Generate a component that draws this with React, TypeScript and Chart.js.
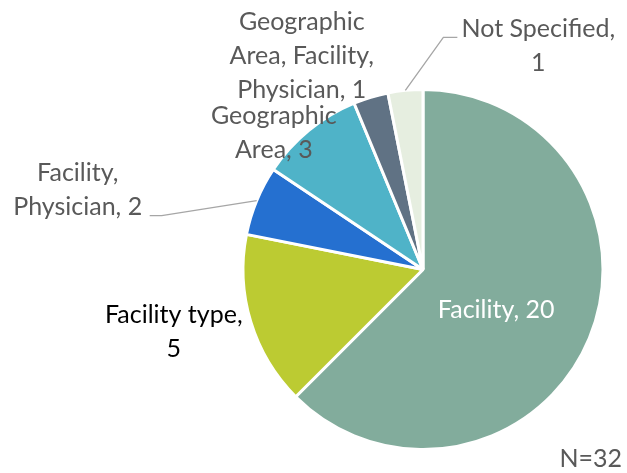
import React, { useEffect, useRef } from "react";
import { Chart, registerables } from "chart.js";

Chart.register(...registerables);

const categories = [
  "Facility",
  "Facility type",
  "Facility, Physician",
  "Geographic Area",
  "Geographic Area, Facility, Physician",
  "Not Specified",
];
const values = [20, 5, 2, 3, 1, 1];
const colors = ["#82AC9C", "#BCCB32", "#2570D0", "#4FB3C8", "#607284", "#E6EEE0"];
// label text lines per slice
const labelLines = [
  ["Facility, 20"],
  ["Facility type,", "5"],
  ["Facility,", "Physician, 2"],
  ["Geographic", "Area, 3"],
  ["Geographic", "Area, Facility,", "Physician, 1"],
  ["Not Specified,", "1"],
];
const labelColors = ["#FFFFFF", "#000000", "#595959", "#595959", "#595959", "#595959"];
// label placement relative to slice anchor: [radius factor, dx, dy]
const labelPlace = [
  [0.5, -10, 6],
  [1, -77, 10],
  [1, -179, -11],
  [1, -35, 3],
  [1, -69, -41],
  [1, 133, -44],
];
// leader lines: list of offsets from anchor (null = none)
const leaders: (number[][] | null)[] = [
  null,
  null,
  [[0, 0], [-95, 15], [-107, 15]],
  null,
  null,
  [[0, 0], [38, -53], [52, -53]],
];
const footnote = "N=32";
const FONT = "25px Lato, 'Open Sans', sans-serif";

const labelPlugin = {
  id: "sliceLabels",
  afterDraw(chart: any) {
    const ctx = chart.ctx;
    const meta = chart.getDatasetMeta(0);
    ctx.save();
    meta.data.forEach((arc: any, i: number) => {
      const { x, y, startAngle, endAngle, outerRadius } = arc.getProps(
        ["x", "y", "startAngle", "endAngle", "outerRadius"],
        true
      );
      const mid = (startAngle + endAngle) / 2;
      const ax = x + Math.cos(mid) * outerRadius;
      const ay = y + Math.sin(mid) * outerRadius;
      const ld = leaders[i];
      if (ld) {
        ctx.beginPath();
        ctx.strokeStyle = "#A6A6A6";
        ctx.lineWidth = 1.3;
        ld.forEach((p, k) => {
          if (k === 0) ctx.moveTo(ax + p[0], ay + p[1]);
          else ctx.lineTo(ax + p[0], ay + p[1]);
        });
        ctx.stroke();
      }
      const [f, dx, dy] = labelPlace[i];
      const cx = x + Math.cos(mid) * outerRadius * f + dx;
      const cy = y + Math.sin(mid) * outerRadius * f + dy;
      const lines = labelLines[i];
      const lh = 34;
      ctx.fillStyle = labelColors[i];
      ctx.font = FONT;
      ctx.textAlign = "center";
      ctx.textBaseline = "middle";
      lines.forEach((t, k) => {
        ctx.fillText(t, cx, cy + (k - (lines.length - 1) / 2) * lh);
      });
    });
    ctx.fillStyle = "#595959";
    ctx.font = FONT;
    ctx.textAlign = "right";
    ctx.textBaseline = "middle";
    ctx.fillText(footnote, 622, 459);
    ctx.restore();
  },
};

export default function App() {
  const ref = useRef<HTMLCanvasElement>(null);
  useEffect(() => {
    if (!ref.current) return;
    const chart = new Chart(ref.current, {
      type: "pie",
      data: {
        labels: categories,
        datasets: [
          {
            data: values,
            backgroundColor: colors,
            borderColor: "#FFFFFF",
            borderWidth: 3,
          },
        ],
      },
      options: {
        animation: false,
        responsive: true,
        maintainAspectRatio: false,
        layout: { padding: { left: 241, right: 22, top: 88, bottom: 22 } },
        plugins: {
          legend: { display: false },
          tooltip: { enabled: false },
        },
      },
      plugins: [labelPlugin],
    });
    return () => chart.destroy();
  }, []);
  return (
    <div style={{ position: "absolute", left: 0, top: 0, width: 627, height: 473, background: "#fff" }}>
      <canvas ref={ref} />
    </div>
  );
}
